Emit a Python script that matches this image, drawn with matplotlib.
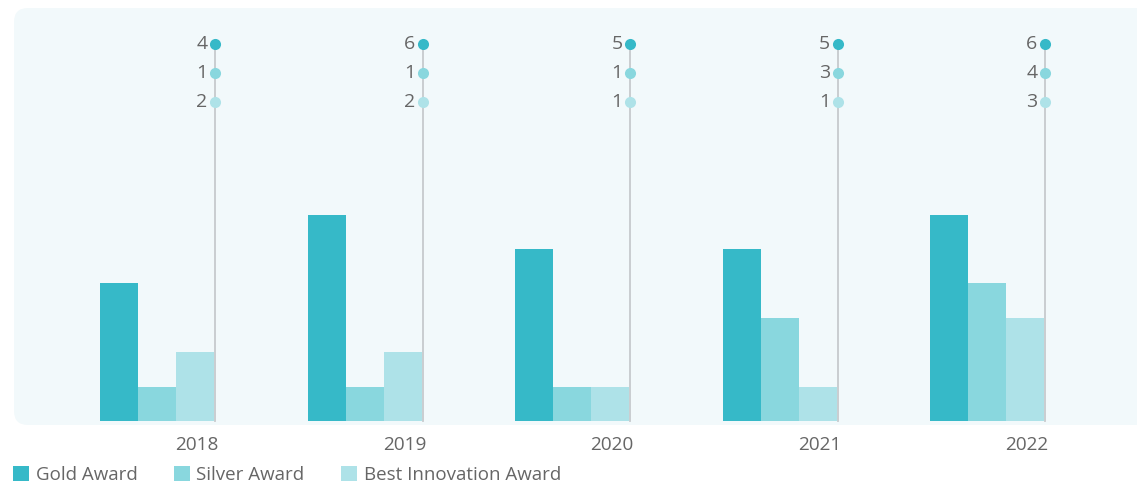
import matplotlib
matplotlib.use("Agg")
import matplotlib.pyplot as plt
import matplotlib.patches as mpatches
from matplotlib.transforms import IdentityTransform, blended_transform_factory
import numpy as np

plt.rcParams['font.family'] = ['Open Sans', 'DejaVu Sans']

# Data
years = ['2018', '2019', '2020', '2021', '2022']
gold = [4, 6, 5, 5, 6]
silver = [1, 1, 1, 3, 4]
innovation = [2, 2, 1, 1, 3]
series_names = ['Gold Award', 'Silver Award', 'Best Innovation Award']
colors = ['#36b9c8', '#89d7de', '#aee2e8']

text_color = '#666666'
panel_color = '#f2f9fb'

fig = plt.figure(figsize=(11.37, 4.84), dpi=100)

# rounded background panel (pixel coordinates)
panel = mpatches.FancyBboxPatch((14, 59), 1150, 417,
                                boxstyle="round,pad=0,rounding_size=14",
                                facecolor=panel_color, edgecolor='none',
                                transform=IdentityTransform(), zorder=-5)
fig.add_artist(panel)

W, H = 1137, 484
ax = fig.add_axes([14 / W, (H - 425) / H, (W - 14) / W, 417 / H])
ax.set_facecolor('none')
for s in ax.spines.values():
    s.set_visible(False)

x = np.arange(len(years))
w = 0.183
line_x = x + 0.087
series = [gold, silver, innovation]
for k, (vals, c) in enumerate(zip(series, colors)):
    ax.bar(line_x - 0.005 - (2.5 - k) * w, vals, width=w, color=c,
           linewidth=0, label=series_names[k], zorder=2)

ax.set_xlim(-0.882, 4.530)
ax.set_ylim(-0.116, 12.006)

# vertical lines and dot labels
trans = blended_transform_factory(ax.transData, ax.transAxes)
dot_y = [0.9137, 0.844, 0.775]
base = ax.transAxes.inverted().transform(ax.transData.transform((0, 0)))[1]
for i in range(len(years)):
    ax.plot([line_x[i], line_x[i]], [base, dot_y[0]], transform=trans,
            color='#c6cacd', lw=1.3, zorder=1)
    for k, vals in enumerate(series):
        ax.plot(line_x[i], dot_y[k], 'o', transform=trans, color=colors[k],
                markersize=8, markeredgewidth=0, zorder=3)
        ax.annotate(str(vals[i]), xy=(line_x[i], dot_y[k]), xycoords=trans,
                    xytext=(-5.5, 0), textcoords='offset points',
                    ha='right', va='center', fontsize=14, color=text_color)

ax.set_yticks([])
ax.set_xticks(x)
ax.set_xticklabels(years, fontsize=13.7, color=text_color)
ax.tick_params(axis='x', length=0, pad=8)

handles = [mpatches.Patch(facecolor=c, edgecolor='none') for c in colors]
fig.legend(handles, series_names, loc='lower left', bbox_to_anchor=(0.0, -0.028),
           ncol=3, frameon=False, fontsize=13.5, labelcolor=text_color,
           handlelength=0.85, handleheight=0.85, handletextpad=0.35,
           columnspacing=1.95, borderaxespad=0.3)

fig.savefig('out.png', dpi=100)
